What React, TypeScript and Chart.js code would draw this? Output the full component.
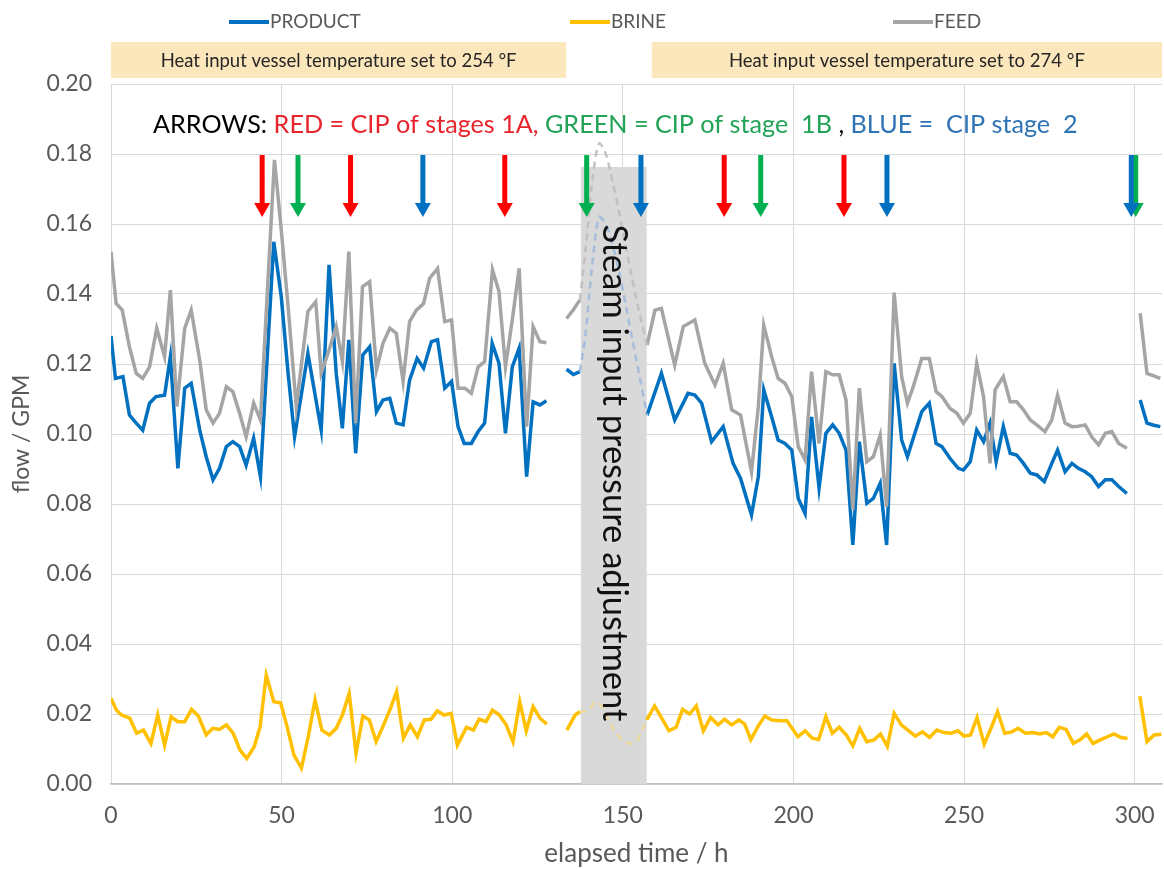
import React, { useEffect, useRef } from "react";
import { Chart, registerables } from "chart.js";
Chart.register(...registerables);

const FONT = "Lato, 'Open Sans', sans-serif";

// ---------- data (elapsed time h, flow GPM); null = gap ----------
const productT = [0, 1.3, 3.5, 5.4, 7.4, 9.3, 11.3, 13.2, 15.7, 17.4, 19.6, 21.6, 23.5, 26, 27.9, 29.9, 31.8, 33.8, 35.7, 37.7, 39.6, 41.8, 43.8, 47.7, 49.9, 51.9, 53.8, 57.7, 61.6, 63.9, 66, 67.8, 69.7, 71.7, 73.8, 75.8, 77.8, 79.7, 81.7, 83.6, 85.6, 87.5, 89.7, 91.6, 93.9, 95.7, 97.8, 99.8, 101.7, 103.5, 105.6, 107.6, 109.5, 111.7, 113.7, 115.6, 117.6, 119.6, 121.8, 123.7, 125.7, 127.6,
  130,
  133.5, 135.5, 137.4,
  147,
  157.1, 161.3, 165.2, 169.1, 171.1, 173.1, 176, 179.4, 182.3, 184.5, 187.7, 189.7, 191.3, 193.6, 195.5, 197.5, 199.5, 201.4, 203.4, 205.3, 207.5, 209.5, 211.5, 213.4, 215.4, 217.4, 219.3, 221.5, 223.4, 225.4, 227.3, 229.5, 231.7, 233.4, 235.1, 237.6, 239.8, 241.8, 243.5, 245.9, 248.3, 249.8, 251.8, 253.7, 255.7, 257.6, 259.4, 261.5, 263.5, 265.4, 267.4, 269.4, 271.3, 273.5, 275.7, 277.4, 279.6, 281.6, 283.5, 285.5, 287.4, 289.4, 291.4, 293.3, 295.3, 297.7,
  299.5,
  301.6, 303.6, 305.6, 307.5];
const productV = [0.128, 0.1159, 0.1164, 0.1054, 0.1031, 0.1011, 0.1088, 0.1107, 0.1111, 0.1221, 0.0902, 0.1131, 0.1145, 0.1011, 0.0935, 0.0869, 0.0902, 0.0964, 0.0978, 0.0964, 0.0911, 0.0988, 0.0878, 0.1549, 0.1392, 0.1173, 0.0992, 0.123, 0.1011, 0.1483, 0.1173, 0.1016, 0.1269, 0.0945, 0.1226, 0.1249, 0.1064, 0.1097, 0.1102, 0.1031, 0.1026, 0.1154, 0.1216, 0.1188, 0.1264, 0.1269, 0.1131, 0.115, 0.1021, 0.0973, 0.0973, 0.1007, 0.1031, 0.1259, 0.1202, 0.1002, 0.1192, 0.1245, 0.0878, 0.1092, 0.1083, 0.1095,
  null,
  0.1185, 0.117, 0.1178,
  null,
  0.1054, 0.1173, 0.104, 0.1116, 0.1111, 0.1088, 0.0978, 0.1021, 0.0916, 0.0873, 0.0769, 0.0878, 0.1126, 0.1049, 0.0983, 0.0973, 0.0954, 0.0816, 0.0773, 0.1049, 0.0845, 0.1002, 0.1026, 0.1002, 0.0954, 0.0683, 0.0978, 0.0802, 0.0816, 0.0859, 0.0683, 0.1202, 0.0983, 0.0935, 0.0988, 0.1064, 0.1088, 0.0973, 0.0964, 0.093, 0.0902, 0.0897, 0.0921, 0.1011, 0.0978, 0.1031, 0.0921, 0.1021, 0.0945, 0.094, 0.0916, 0.0888, 0.0883, 0.0864, 0.0916, 0.0954, 0.0892, 0.0916, 0.0902, 0.0892, 0.0878, 0.085, 0.0869, 0.0869, 0.085, 0.083,
  null,
  0.1097, 0.1031, 0.1025, 0.1021];

const feedT = [0, 1.5, 3.3, 5.4, 7.4, 9.3, 11.3, 13.4, 15.7, 17.4, 19.3, 21.6, 23.5, 26, 27.9, 29.9, 31.8, 33.8, 35.7, 37.7, 39.6, 41.8, 43.8, 47.9, 49.9, 51.9, 54.3, 57.7, 60, 61.6, 63.9, 66, 67.8, 69.7, 71.7, 73.7, 75.8, 77.8, 79.7, 81.7, 83.6, 85.6, 87.5, 89.5, 91.6, 93.4, 95.7, 97.8, 99.8, 101.7, 103.7, 105.6, 107.6, 109.5, 111.8, 113.7, 115.6, 117.6, 119.6, 121.8, 123.7, 125.7, 127.6,
  130,
  133.5, 135.5, 137.4,
  147,
  157.1, 159.4, 161.3, 165.2, 167.7, 171.1, 174, 177, 179.4, 181.9, 184.5, 187.7, 189.7, 191.3, 193.6, 195.5, 197.5, 199.5, 201.4, 203.4, 205.3, 207.5, 209.5, 211.5, 213.4, 215.4, 217.4, 219.3, 221.5, 223.4, 225.4, 227.3, 229.5, 231.7, 233.4, 235.1, 237.6, 239.8, 241.8, 243.5, 245.9, 247.9, 249.8, 251.8, 253.7, 255.7, 257.6, 259.1, 261.5, 263.5, 265.4, 267.4, 269.4, 271.3, 273.7, 275.7, 277.4, 279.6, 281.6, 283.5, 285.5, 287.4, 289.4, 291.4, 293.3, 295.3, 297.7,
  299.5,
  301.6, 303.6, 305.6, 307.5];
const feedV = [0.1521, 0.1373, 0.1354, 0.1249, 0.1173, 0.1159, 0.1192, 0.1302, 0.1221, 0.1411, 0.1078, 0.1302, 0.1354, 0.1211, 0.1069, 0.1031, 0.1059, 0.1135, 0.1121, 0.1059, 0.0992, 0.1088, 0.104, 0.1783, 0.1583, 0.1364, 0.1078, 0.135, 0.1378, 0.1173, 0.124, 0.1307, 0.1207, 0.1521, 0.1031, 0.1421, 0.1435, 0.1183, 0.1259, 0.1302, 0.1288, 0.115, 0.1321, 0.1354, 0.1373, 0.1445, 0.1473, 0.1321, 0.1326, 0.1131, 0.1131, 0.1116, 0.1192, 0.1207, 0.1469, 0.1407, 0.1192, 0.1326, 0.1473, 0.1021, 0.1307, 0.1264, 0.1261,
  null,
  0.133, 0.1355, 0.1383,
  null,
  0.1254, 0.1354, 0.1359, 0.1197, 0.1307, 0.1326, 0.1202, 0.114, 0.1202, 0.1069, 0.1054, 0.0892, 0.1078, 0.1311, 0.1221, 0.1159, 0.1145, 0.1107, 0.0964, 0.0926, 0.1178, 0.0973, 0.1178, 0.1169, 0.1169, 0.1097, 0.0783, 0.1131, 0.0921, 0.0935, 0.0997, 0.0792, 0.1404, 0.1164, 0.1088, 0.1135, 0.1216, 0.1216, 0.1121, 0.1107, 0.1073, 0.1059, 0.1031, 0.1059, 0.1202, 0.1107, 0.0916, 0.1126, 0.1164, 0.1092, 0.1092, 0.1069, 0.104, 0.1026, 0.1007, 0.104, 0.1111, 0.1031, 0.1021, 0.1022, 0.1026, 0.0992, 0.0969, 0.1002, 0.1007, 0.0973, 0.0959,
  null,
  0.1345, 0.1173, 0.1166, 0.1159];

const brineT = [0, 1.6, 3.1, 5.5, 7.5, 9.5, 11.7, 13.7, 15.7, 17.6, 19.6, 21.6, 23.6, 25.6, 27.9, 29.8, 31.8, 33.8, 35.8, 37.8, 39.8, 42, 43.7, 45.5, 47.7, 49.7, 51.6, 53.6, 55.8, 57.8, 59.8, 61.8, 64, 66, 67.8, 69.8, 71.8, 73.8, 75.7, 77.7, 79.9, 81.9, 83.7, 85.7, 87.7, 89.8, 91.8, 93.8, 95.6, 97.6, 99.7, 101.5, 104.2, 106.2, 107.9, 109.9, 111.8, 113.8, 115.8, 117.8, 119.8, 121.7, 123.7, 125.7, 127.7,
  130,
  133.6, 136, 137.4,
  147,
  157, 159.3, 161.4, 163.5, 165.6, 167.5, 169.6, 171.5, 173.6, 175.7, 177.9, 179.8, 181.9, 184, 185.7, 187.5, 189.7, 191.6, 193.7, 196, 198.1, 201.3, 203.4, 205.5, 207.4, 209.5, 211.4, 213.4, 215.5, 217.4, 219.4, 221.5, 223.6, 225.5, 227.5, 229.5, 231.6, 233.8, 235.7, 237.8, 239.9, 242, 244.1, 246.2, 248.2, 250, 251.9, 253.8, 255.9, 258, 259.8, 261.9, 264, 265.8, 268, 270.1, 272.2, 274.1, 276, 277.9, 279.9, 282, 284.1, 285.9, 287.8, 289.9, 292, 293.9, 296, 297.9,
  299.5,
  301.5, 303.6, 305.7, 307.8];
const brineV = [0.0245, 0.0211, 0.0197, 0.0188, 0.0145, 0.0154, 0.0116, 0.0197, 0.0111, 0.0192, 0.0178, 0.0178, 0.0213, 0.0194, 0.014, 0.0159, 0.0156, 0.0169, 0.0145, 0.0097, 0.0073, 0.0107, 0.0164, 0.0311, 0.0235, 0.0232, 0.0164, 0.0083, 0.0045, 0.0135, 0.024, 0.0154, 0.014, 0.0159, 0.0197, 0.0259, 0.0088, 0.0194, 0.0183, 0.0121, 0.0169, 0.0216, 0.0264, 0.0131, 0.0169, 0.0135, 0.0183, 0.0185, 0.0209, 0.0197, 0.0202, 0.0111, 0.0162, 0.0154, 0.0185, 0.0178, 0.0211, 0.0197, 0.0169, 0.0121, 0.0235, 0.0152, 0.0221, 0.0188, 0.0171,
  null,
  0.0154, 0.0197, 0.0207,
  null,
  0.0183, 0.0223, 0.0188, 0.0152, 0.0162, 0.0213, 0.02, 0.0223, 0.0152, 0.019, 0.0169, 0.0185, 0.0169, 0.0183, 0.0171, 0.0127, 0.0166, 0.0194, 0.0183, 0.0181, 0.0181, 0.0135, 0.0152, 0.0131, 0.0127, 0.0192, 0.0145, 0.0162, 0.014, 0.0109, 0.0159, 0.0121, 0.0126, 0.0143, 0.0107, 0.0202, 0.0169, 0.0152, 0.0137, 0.0149, 0.0133, 0.0154, 0.0147, 0.0145, 0.0152, 0.0137, 0.014, 0.019, 0.0114, 0.0162, 0.0207, 0.0145, 0.0149, 0.0159, 0.0145, 0.0147, 0.0143, 0.0147, 0.0135, 0.0162, 0.0156, 0.0116, 0.0127, 0.0143, 0.0116, 0.0126, 0.0135, 0.0143, 0.0133, 0.013,
  null,
  0.0251, 0.0121, 0.014, 0.0142];

// faded (dashed) traces during the steam pressure adjustment
const productDashT = [137.4, 139, 141, 143, 145, 147, 149, 151, 153, 155, 157.1];
const productDashV = [0.1178, 0.128, 0.148, 0.162, 0.16, 0.154, 0.146, 0.136, 0.126, 0.116, 0.1054];
const feedDashT = [137.4, 139, 141, 143, 145, 147, 149, 151, 153, 155, 157.1];
const feedDashV = [0.1383, 0.152, 0.172, 0.183, 0.18, 0.172, 0.163, 0.153, 0.143, 0.134, 0.1254];
const brineDashT = [137.4, 140, 142, 144, 146, 148, 150, 152, 154, 155.5, 157];
const brineDashV = [0.0207, 0.021, 0.0235, 0.022, 0.018, 0.0145, 0.0125, 0.0115, 0.0122, 0.015, 0.0183];

// CIP arrows (time h, colour key)
const arrowT = [44.3, 54.8, 70.2, 91.4, 115.4, 139.4, 155.3, 179.7, 190.4, 214.8, 227.4, 300.3, 299.0];
const arrowKind = ["red", "green", "red", "blue", "red", "green", "blue", "red", "green", "red", "blue", "green", "blue"];
const arrowTop = 0.1797;
const arrowTip = 0.162;

// shaded steam-adjustment band
const bandStart = 137.7;
const bandEnd = 157.0;
const bandTop = 0.1763;
const bandLabel = "Steam input pressure adjustment";

// header boxes: [start h, end h, text]
const headerStart = [0, 158.5];
const headerEnd = [133.4, 308];
const headerText = ["Heat input vessel temperature set to 254 °F", "Heat input vessel temperature set to 274 °F"];

const arrowNote = [
  ["ARROWS: ", "#000000"],
  ["RED = CIP of stages 1A,", "#e8242c"],
  [" GREEN = CIP of stage  1B", "#22a358"],
  [" , ", "#000000"],
  ["BLUE =  CIP stage  2", "#2e74b5"],
];

const seriesLabels = ["PRODUCT", "BRINE", "FEED"];
const seriesColors = ["#0070c0", "#ffc000", "#a5a5a5"];
const legendX = [229, 570, 893];

const ARROW_COLORS: Record<string, string> = { red: "#ff0000", green: "#00b050", blue: "#0070c0" };

const pts = (t: number[], v: (number | null)[]) => t.map((x, i) => ({ x, y: v[i] }));

const decorPlugin = {
  id: "decor",
  beforeDatasetsDraw(chart: any) {
    const { ctx, scales } = chart;
    const x = scales.x, y = scales.y;
    ctx.save();
    ctx.fillStyle = "#d9d9d9";
    const x0 = x.getPixelForValue(bandStart), x1 = x.getPixelForValue(bandEnd);
    const yt = y.getPixelForValue(bandTop), yb = y.getPixelForValue(0);
    ctx.fillRect(x0, yt, x1 - x0, yb - yt);
    ctx.restore();
  },
  afterDatasetsDraw(chart: any) {
    const { ctx, scales } = chart;
    const x = scales.x, y = scales.y;
    ctx.save();
    // arrows
    arrowT.forEach((t, i) => {
      const px = x.getPixelForValue(t);
      const top = y.getPixelForValue(arrowTop);
      const tip = y.getPixelForValue(arrowTip);
      const headH = 14, headW = 16, shaft = 5;
      ctx.fillStyle = ARROW_COLORS[arrowKind[i]];
      ctx.fillRect(px - shaft / 2, top, shaft, tip - headH - top + 1);
      ctx.beginPath();
      ctx.moveTo(px - headW / 2, tip - headH);
      ctx.lineTo(px + headW / 2, tip - headH);
      ctx.lineTo(px, tip);
      ctx.closePath();
      ctx.fill();
    });
    // band label, rotated
    const bx = (x.getPixelForValue(bandStart) + x.getPixelForValue(bandEnd)) / 2;
    let fs = 28;
    ctx.font = `${fs}px ${FONT}`;
    const w = ctx.measureText(bandLabel).width;
    fs = fs * 497 / w;
    ctx.font = `${fs}px ${FONT}`;
    ctx.translate(bx, 473);
    ctx.rotate(Math.PI / 2);
    ctx.fillStyle = "#111111";
    ctx.textAlign = "center";
    ctx.textBaseline = "middle";
    ctx.fillText(bandLabel, 0, 0);
    ctx.restore();

    // arrows note
    ctx.save();
    let nfs = 24;
    ctx.font = `${nfs}px ${FONT}`;
    const total = arrowNote.reduce((s, p) => s + ctx.measureText(p[0]).width, 0);
    nfs = nfs * 925 / total;
    ctx.font = `${nfs}px ${FONT}`;
    ctx.textBaseline = "middle";
    ctx.textAlign = "left";
    let cx = 153;
    arrowNote.forEach(([txt, col]) => {
      ctx.fillStyle = col;
      ctx.fillText(txt, cx, 125);
      cx += ctx.measureText(txt).width;
    });
    ctx.restore();
  },
  afterDraw(chart: any) {
    const { ctx, scales, chartArea } = chart;
    const x = scales.x;
    ctx.save();
    // header boxes
    headerText.forEach((txt, i) => {
      const a = Math.max(x.getPixelForValue(headerStart[i]), chartArea.left);
      const b = Math.min(x.getPixelForValue(headerEnd[i]), 1164);
      ctx.fillStyle = "#fce6bb";
      ctx.fillRect(a, 42, b - a, 36);
      ctx.fillStyle = "#262626";
      ctx.font = `18.5px ${FONT}`;
      ctx.textAlign = "center";
      ctx.textBaseline = "middle";
      ctx.fillText(txt, (a + b) / 2, 61);
    });
    // legend
    seriesLabels.forEach((lab, i) => {
      const lx = legendX[i];
      ctx.strokeStyle = seriesColors[i];
      ctx.lineWidth = 4;
      ctx.beginPath();
      ctx.moveTo(lx, 22);
      ctx.lineTo(lx + 40, 22);
      ctx.stroke();
      ctx.fillStyle = "#595959";
      ctx.font = `19px ${FONT}`;
      ctx.textAlign = "left";
      ctx.textBaseline = "middle";
      ctx.fillText(lab, lx + 41, 22);
    });
    ctx.restore();
  },
};

export default function App() {
  const ref = useRef<HTMLCanvasElement>(null);
  useEffect(() => {
    if (!ref.current) return;
    const lineDs = (label: string, color: string, t: number[], v: (number | null)[]) => ({
      label, data: pts(t, v), borderColor: color, backgroundColor: color,
      borderWidth: 3.5, pointRadius: 0, tension: 0, spanGaps: false,
    });
    const dashDs = (label: string, color: string, t: number[], v: number[]) => ({
      label, data: pts(t, v), borderColor: color, backgroundColor: color,
      borderWidth: 2.5, borderDash: [7, 5], pointRadius: 0, tension: 0.3,
    });
    const chart = new Chart(ref.current, {
      type: "line",
      data: {
        datasets: [
          dashDs("brine-adj", "rgba(235, 215, 150, 0.9)", brineDashT, brineDashV),
          dashDs("feed-adj", "rgba(190, 190, 190, 0.9)", feedDashT, feedDashV),
          dashDs("product-adj", "rgba(160, 185, 218, 0.9)", productDashT, productDashV),
          lineDs("BRINE", seriesColors[1], brineT, brineV),
          lineDs("FEED", seriesColors[2], feedT, feedV),
          lineDs("PRODUCT", seriesColors[0], productT, productV),
        ],
      },
      options: {
        responsive: true,
        maintainAspectRatio: false,
        animation: false,
        layout: { padding: { top: 84, left: 0, right: 2, bottom: 0 } },
        plugins: { legend: { display: false }, tooltip: { enabled: false }, title: { display: false } },
        scales: {
          x: {
            type: "linear",
            min: 0,
            max: 308,
            afterFit: (s: any) => { s.height = 85; s.paddingRight = 0; s.paddingLeft = 0; },
            grid: { color: "#d9d9d9", lineWidth: 1, drawTicks: false },
            border: { color: "#bfbfbf", width: 1.5 },
            ticks: { stepSize: 50, includeBounds: false, padding: 18, color: "#595959", font: { family: FONT, size: 23 } },
            title: { display: true, text: "elapsed time / h", color: "#595959", font: { family: FONT, size: 26 }, padding: 0 },
          },
          y: {
            min: 0,
            max: 0.2,
            afterFit: (s: any) => { s.width = 111; },
            grid: { color: "#d9d9d9", lineWidth: 1, drawTicks: false },
            border: { display: false },
            ticks: { stepSize: 0.02, padding: 19, color: "#595959", font: { family: FONT, size: 23 }, callback: (v: any) => Number(v).toFixed(2) },
            title: { display: true, text: "flow / GPM", color: "#595959", font: { family: FONT, size: 23 }, padding: 8 },
          },
        },
      },
      plugins: [decorPlugin],
    });
    return () => chart.destroy();
  }, []);
  return (
    <div style={{ position: "absolute", left: 0, top: 0, width: 1164, height: 869, background: "#ffffff" }}>
      <canvas ref={ref} />
    </div>
  );
}
